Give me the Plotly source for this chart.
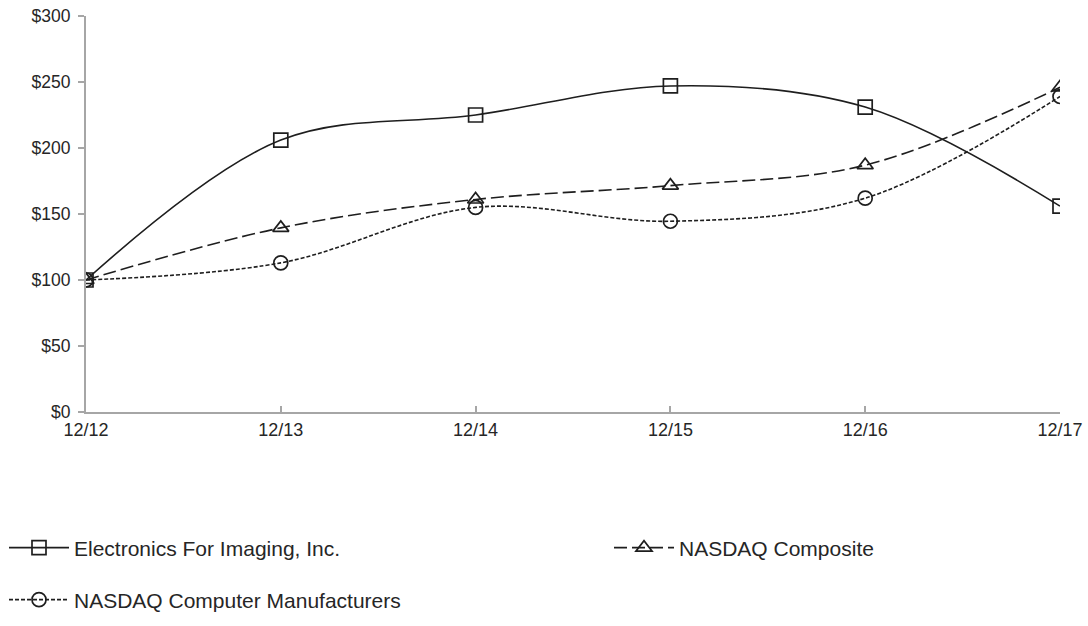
import plotly.graph_objects as go

years = ["12/12", "12/13", "12/14", "12/15", "12/16", "12/17"]
efi = [100, 206, 225, 247, 231, 156]
nasdaq_comp = [100, 139.5, 161, 171.5, 187, 246]
nasdaq_cm = [100, 113, 155, 144.5, 162, 239]
y_ticks = [0, 50, 100, 150, 200, 250, 300]
y_labels = ["$" + str(v) for v in y_ticks]

FONT = "Liberation Sans, Arial, sans-serif"
TXT = "#262626"
LINE = "#1e1e1e"

fig = go.Figure()
fig.add_trace(go.Scatter(
    x=years, y=efi, name="Electronics For Imaging, Inc.", mode="lines+markers",
    line=dict(color=LINE, width=1.6, shape="spline", smoothing=1.0),
    marker=dict(symbol="square-open", size=14, color=LINE, line=dict(width=1.7)),
    legend="legend"))
fig.add_trace(go.Scatter(
    x=years, y=nasdaq_comp, name="NASDAQ Composite", mode="lines+markers",
    line=dict(color=LINE, width=1.6, shape="spline", smoothing=1.0, dash="13px,5px"),
    marker=dict(symbol="triangle-up-open", size=14, color=LINE, line=dict(width=1.7)),
    legend="legend2"))
fig.add_trace(go.Scatter(
    x=years, y=nasdaq_cm, name="NASDAQ Computer Manufacturers", mode="lines+markers",
    line=dict(color=LINE, width=1.6, shape="spline", smoothing=1.0, dash="4px,2px"),
    marker=dict(symbol="circle-open", size=14, color=LINE, line=dict(width=1.7)),
    legend="legend3"))

leg_common = dict(xref="container", yref="container", xanchor="left", yanchor="middle",
                  font=dict(family=FONT, size=21, color=TXT), bgcolor="rgba(0,0,0,0)",
                  itemwidth=60)
fig.update_layout(
    width=1088, height=626,
    margin=dict(l=86, r=28, t=16, b=214, autoexpand=False),
    paper_bgcolor="white", plot_bgcolor="white",
    font=dict(family=FONT, size=18, color=TXT),
    showlegend=True,
    legend=dict(x=4 / 1088, y=1 - 548 / 626, **leg_common),
    legend2=dict(x=609 / 1088, y=1 - 548 / 626, **leg_common),
    legend3=dict(x=4 / 1088, y=1 - 600 / 626, **leg_common),
    xaxis=dict(type="category", range=[0, 5], showgrid=False, showline=True,
               linecolor="#a6a6a6", linewidth=2, ticks="inside", ticklen=6,
               tickcolor="#a6a6a6", tickwidth=1.5, zeroline=False, automargin=False,
               tickangle=0, tickfont=dict(family=FONT, size=18, color=TXT)),
    yaxis=dict(range=[0, 300], tickvals=y_ticks, ticktext=y_labels, showgrid=False,
               showline=True, linecolor="#a6a6a6", linewidth=2, ticks="outside",
               ticklen=6, tickcolor="#a6a6a6", tickwidth=1.5, zeroline=False,
               automargin=False, ticklabelstandoff=4,
               tickfont=dict(family=FONT, size=17.5, color=TXT)),
)
fig.write_html("out.html")
